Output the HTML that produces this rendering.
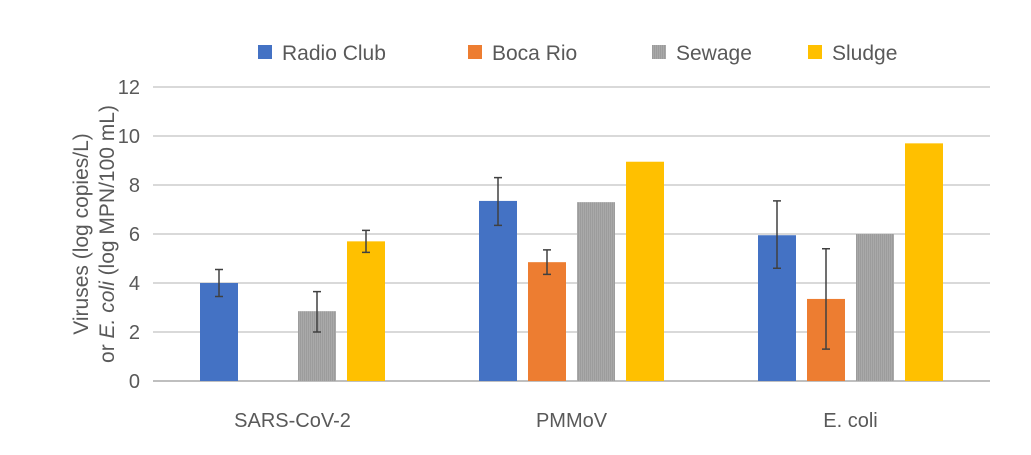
<!DOCTYPE html>
<html><head><meta charset="utf-8"><style>
body{margin:0;background:#fff;}
svg text{font-family:"Liberation Sans",sans-serif;fill:#595959;}
</style></head><body>
<svg width="1031" height="450">
<defs>
<pattern id="sew" width="2" height="2" patternUnits="userSpaceOnUse">
<rect width="2" height="2" fill="#a9a9a9"/><rect width="1" height="2" fill="#9c9c9c"/>
</pattern>
</defs>
<g id="grid"></g>
<g id="bars"></g>
<g id="legend"></g>
<text transform="translate(88,234) rotate(-90)" text-anchor="middle" font-size="21">Viruses (log copies/L)</text>
<text transform="translate(114,234) rotate(-90)" text-anchor="middle" font-size="21">or <tspan font-style="italic">E. coli</tspan> (log MPN/100 mL)</text>
</svg>
<script>
const categories=["SARS-CoV-2","PMMoV","E. coli"];
const seriesNames=["Radio Club","Boca Rio","Sewage","Sludge"];
const radioClub=[4.0,7.35,5.95];
const bocaRio=[0,4.85,3.35];
const sewage=[2.85,7.3,6.0];
const sludge=[5.7,8.95,9.7];
const errLow=[[3.45,6.35,4.6],[null,4.35,1.3],[2.0,null,null],[5.25,null,null]];
const errHigh=[[4.55,8.3,7.35],[null,5.35,5.4],[3.65,null,null],[6.15,null,null]];
const yTicks=[0,2,4,6,8,10,12];
const colors=["#4472c4","#ed7d31","url(#sew)","#ffc000"];
const NS="http://www.w3.org/2000/svg";
const x0=153,x1=990,yb=381,yt=87,ymax=12;
const y=v=>yb-(v/ymax)*(yb-yt);
const gw=(x1-x0)/categories.length;
const bw=38,step=49;
const bx=(c,s)=>x0+gw*c+gw/2-2*step+s*step+(step-bw)/2;
function mk(tag,attrs,parent){const e=document.createElementNS(NS,tag);for(const k in attrs)e.setAttribute(k,attrs[k]);parent.appendChild(e);return e;}
const grid=document.getElementById('grid');
yTicks.forEach(t=>{
  const l=mk('line',{x1:x0,x2:x1,y1:y(t),y2:y(t),stroke:t===0?'#bfbfbf':'#d9d9d9','stroke-width':2},grid);
  
  
  const tx=mk('text',{x:x0-13,y:y(t)+7,'text-anchor':'end','font-size':20},grid);
  tx.textContent=t;
  
  
});
const bars=document.getElementById('bars');
const series=[radioClub,bocaRio,sewage,sludge];
categories.forEach((c,ci)=>{
  const t=mk('text',{x:x0+gw*ci+gw/2,y:yb+46,'text-anchor':'middle','font-size':20},bars);
  t.textContent=c;
  
  
  series.forEach((s,si)=>{
    const v=s[ci];
    if(v>0){
      const r=mk('rect',{x:bx(ci,si),y:y(v),width:bw,height:yb-y(v),fill:colors[si]},bars);
      
      
    }
    const lo=errLow[si][ci],hi=errHigh[si][ci];
    if(lo!=null){
      const cx=bx(ci,si)+bw/2;
      const g=mk('path',{d:`M${cx},${y(lo)}V${y(hi)}M${cx-4},${y(lo)}h8M${cx-4},${y(hi)}h8`,stroke:'#404040','stroke-width':1.5,fill:'none'},bars);
      
      
    }
  });
});
const lg=document.getElementById('legend');
const lx=[258,468,652,808];
seriesNames.forEach((n,i)=>{
  const r=mk('rect',{x:lx[i],y:45,width:14,height:14,fill:colors[i]},lg);
  
  
  const t=mk('text',{x:lx[i]+24,y:60,'font-size':21},lg);
  t.textContent=n;
  
  
});
</script>
</body></html>
